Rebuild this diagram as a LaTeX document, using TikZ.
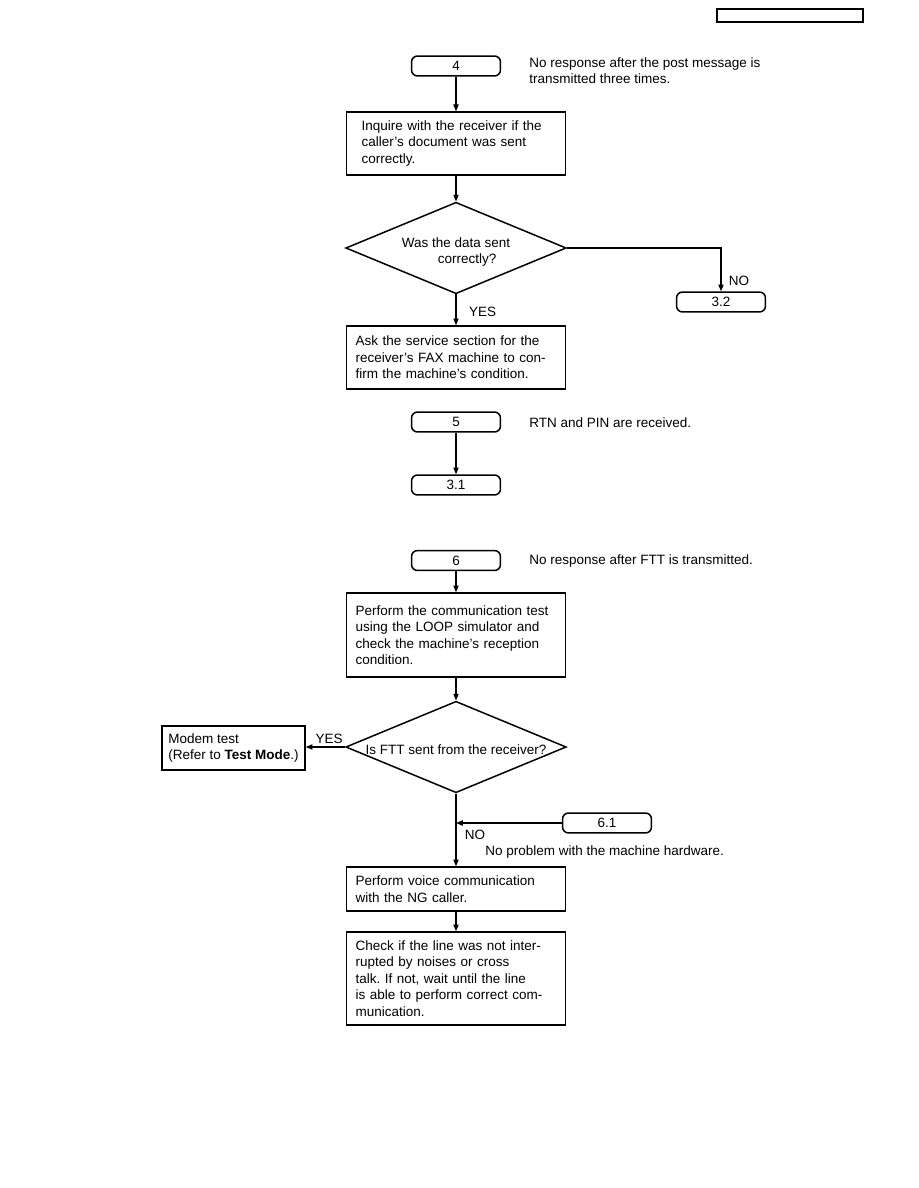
\documentclass[tikz,border=0pt]{standalone}
\usepackage{fontspec}
\setmainfont{Liberation Sans}
\usetikzlibrary{positioning, shapes.geometric, arrows.meta}
\frenchspacing

\begin{document}
\begin{tikzpicture}[
        x=0.6667pt, y=-0.6667pt,
        font=\fontsize{9}{11}\selectfont,
        term/.style={draw, line width=1pt, rounded corners=4pt, minimum width=59.3pt, minimum height=13.3pt, inner sep=0pt},
        proc/.style={draw, line width=1pt, rectangle, minimum width=146pt, text width=134pt, inner xsep=6pt, align=left},
        dec/.style={draw, line width=1pt, diamond, aspect=2.44, inner sep=0pt, minimum width=147pt, minimum height=61pt, align=center},
        note/.style={inner sep=0pt, anchor=west, align=left},
        arrow/.style={-{Triangle[length=4.5pt, width=3.5pt]}, line width=0.75pt}
    ]
    \useasboundingbox (0,0) rectangle (918,1188);
    \node[draw, line width=1pt, minimum width=97.3pt, minimum height=8.7pt, inner sep=0pt] (hdr) at (790,15.5) {};

    % block 4
    \node[term] (t4) at (456,66) {4};
    \node[note] (n4) at (529,70.5) {No response after the post message is\\transmitted three times.};
    \node[proc, text width=126pt, inner xsep=10pt, minimum height=42pt] (inq) at (456,143.5) {Inquire with the receiver if the\\caller's document was sent\\correctly.};
    \node[dec, align=left, text height=23pt] (sent) at (456,248) {Was the data sent\\\hspace*{24pt}correctly?};
    \node[term] (t32) at (721,302) {3.2};
    \node[proc, minimum height=42pt] (ask) at (456,357.5) {Ask the service section for the\\receiver's FAX machine to con-\\firm the machine's condition.};

    % block 5
    \node[term] (t5) at (456,422) {5};
    \node[note] (n5) at (529,423) {RTN and PIN are received.};
    \node[term] (t31) at (456,485) {3.1};

    % block 6
    \node[term] (t6) at (456,560.5) {6};
    \node[note] (n6) at (529,561) {No response after FTT is transmitted.};
    \node[proc, minimum height=56pt] (loop) at (456,635) {Perform the communication test\\using the LOOP simulator and\\check the machine's reception\\condition.};
    \node[dec, text height=10pt] (ftt) at (456,747) {Is FTT sent from the receiver?};
    \node[draw, line width=1pt, minimum width=95.3pt, minimum height=29.3pt, align=left, inner sep=0pt] (modem) at (233.5,748) {Modem test\\(Refer to \textbf{Test Mode}.)};
    \node[term] (t61) at (607,823) {6.1};
    \node[proc, minimum height=29.3pt] (voice) at (456,889) {Perform voice communication\\with the NG caller.};
    \node[proc, minimum height=62pt] (chk) at (456,978.5) {Check if the line was not inter-\\rupted by noises or cross\\talk. If not, wait until the line\\is able to perform correct com-\\munication.};

    % labels
    \node[inner sep=0pt] (no1) at (739,281) {NO};
    \node[inner sep=0pt] (yes1) at (482.5,312) {YES};
    \node[inner sep=0pt] (yes2) at (329,739) {YES};
    \node[inner sep=0pt] (no2) at (475,835) {NO};
    \node[note] (n61) at (485,852) {No problem with the machine hardware.};

    \draw[arrow] (t4) -- (inq);
    \draw[arrow] (inq) -- (sent);
    \draw[arrow] (sent.east) -| (t32.north);
    \draw[arrow] (sent.south) -- (ask.north);
    \draw[arrow] (t5) -- (t31);
    \draw[arrow] (t6) -- (loop);
    \draw[arrow] (loop) -- (ftt);
    \draw[arrow] (ftt.west) -- (ftt.west -| modem.east);
    \draw[arrow] (ftt.south) -- (voice.north);
    \draw[arrow] (t61.west) -- (t61.west -| ftt.south);
    \draw[arrow] (voice) -- (chk);
\end{tikzpicture}
\end{document}
